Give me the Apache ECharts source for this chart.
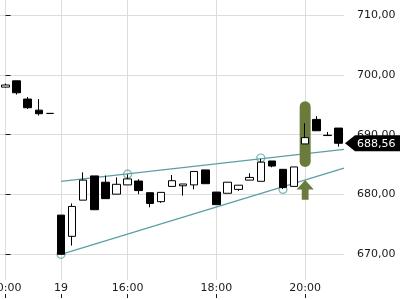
<!DOCTYPE html>
<html><head><meta charset="utf-8">
<script src="https://cdn.jsdelivr.net/npm/echarts@6/dist/echarts.min.js"></script>
<style>html,body{margin:0;padding:0;background:#fff}#c{width:400px;height:300px}</style>
</head><body><div id="c"></div>
<script>
// ---- data ----
const categories = [
  '18 20:00','18 20:15','18 20:30','18 20:45','18 21:00',
  '19 14:30','19 14:45','19 15:00','19 15:15','19 15:30','19 15:45',
  '19 16:00','19 16:15','19 16:30','19 16:45','19 17:00','19 17:15','19 17:30','19 17:45',
  '19 18:00','19 18:15','19 18:30','19 18:45','19 19:00','19 19:15','19 19:30','19 19:45',
  '19 20:00','19 20:15','19 20:30','19 20:45'
];
const opens  = [697.95,699.0,695.95,694.1,693.55, 676.55,673.0,679.05,683.1,682.05,680.05, 681.6,682.25,680.3,678.8,681.35,681.45,681.6,684.1, 680.4,680.2,680.85,682.4,682.2,685.6,684.2,681.35, 688.45,692.55,689.9,691.1];
const closes = [698.30,697.0,694.5,693.5,693.55, 670.0,678.0,682.4,677.45,679.3,681.7, 682.6,680.65,678.5,680.35,682.3,681.75,683.85,681.8, 678.3,682.05,681.55,682.85,685.4,684.75,681.15,684.6, 689.5,690.65,689.85,688.56];
const lows   = [697.90,696.7,694.3,693.2,693.55, 670.0,671.45,679.05,677.45,679.3,680.05, 681.6,680.05,677.85,678.6,681.35,679.8,680.85,681.8, 678.3,680.2,680.6,682.4,682.2,684.55,680.9,681.35, 688.45,690.65,689.85,688.0];
const highs  = [698.55,699.0,696.3,695.95,693.55, 676.55,678.5,683.7,683.1,683.15,682.85, 683.35,682.55,680.3,680.35,683.25,681.75,683.85,684.1, 680.4,682.05,681.55,683.55,685.95,685.6,684.2,684.6, 691.9,693.1,690.45,691.1];

const upperTrend = [[5, 682.2], [30.5, 687.55]];
const lowerTrend = [[5, 670.0], [30.5, 684.4]];
const touchPoints = [[5, 670.0], [11, 683.4], [23, 686.1], [25, 680.85]];
const signalBar = [[27, 684.6, 695.6]];
const signalArrow = [[27, 679.1, 682.4]];
const lastPrice = 688.56;

// ---- helpers ----
const candleData = opens.map((o, i) => [o, closes[i], lows[i], highs[i]]);
function isLabelIdx(i) {
  const [d, t] = categories[i].split(' ');
  if (i > 0 && categories[i - 1].split(' ')[0] !== d) return true;
  const [h, m] = t.split(':');
  return m === '00' && (+h) % 2 === 0;
}
function labelText(i) {
  const [d, t] = categories[i].split(' ');
  if (i > 0 && categories[i - 1].split(' ')[0] !== d) return d;
  return t;
}
const fmt = v => v.toFixed(2).replace('.', ',');
const TEAL = '#5b9fa6', OLIVE = '#6b7b3b', GRID = '#dcdcdc', TXT = '#1a1a1a';
const FONT = 'DejaVu Sans';

const chart = echarts.init(document.getElementById('c'), null, {renderer: 'canvas'});
chart.setOption({
  animation: false,
  textStyle: {fontFamily: FONT},
  grid: [
    {left: 0, right: 56, top: -44.8, height: 358.9, outerBoundsMode: 'none', containLabel: false},
    {left: 0, right: 56, top: 0, height: 280, outerBoundsMode: 'none', containLabel: false}
  ],
  xAxis: [
    {gridIndex: 0, type: 'category', data: categories, boundaryGap: true,
     axisLine: {show: false}, axisTick: {show: false}, axisLabel: {show: false}, splitLine: {show: false}},
    {gridIndex: 1, type: 'category', data: categories, boundaryGap: true, position: 'bottom',
     axisLine: {show: false}, axisTick: {show: false},
     axisLabel: {interval: (i) => isLabelIdx(i), formatter: (v, i) => labelText(i),
                 color: TXT, fontSize: 11, margin: 3, fontFamily: FONT},
     splitLine: {show: true, alignWithLabel: true, interval: (i) => isLabelIdx(i), lineStyle: {color: GRID, width: 1}}},
    {gridIndex: 1, type: 'category', data: categories, boundaryGap: true, position: 'bottom', offset: 18,
     axisLine: {show: false}, axisLabel: {show: false}, splitLine: {show: false},
     axisTick: {show: true, inside: true, length: 4, alignWithLabel: true, interval: (i) => isLabelIdx(i),
                lineStyle: {color: TXT, width: 1}}},
    {gridIndex: 0, type: 'value', min: -0.5, max: 30.5, show: false}
  ],
  yAxis: [
    {gridIndex: 0, type: 'value', position: 'right', min: 660, max: 720, interval: 10,
     axisLine: {show: false},
     axisTick: {show: true, length: 5, lineStyle: {color: TXT}},
     axisLabel: {color: TXT, fontSize: 11, margin: 13, formatter: fmt, fontFamily: FONT},
     splitLine: {show: true, lineStyle: {color: GRID, width: 1}}},
    {gridIndex: 1, type: 'value', show: false}
  ],
  series: [
    {type: 'line', xAxisIndex: 3, yAxisIndex: 0, data: upperTrend, symbol: 'none', z: 1,
     lineStyle: {color: TEAL, width: 1.3}},
    {type: 'line', xAxisIndex: 3, yAxisIndex: 0, data: lowerTrend, symbol: 'none', z: 1,
     lineStyle: {color: TEAL, width: 1.3}},
    {type: 'scatter', xAxisIndex: 3, yAxisIndex: 0, data: touchPoints, symbol: 'circle', symbolSize: 8, z: 1,
     itemStyle: {color: 'rgba(0,0,0,0)', borderColor: TEAL, borderWidth: 1.2}},
    {type: 'custom', xAxisIndex: 0, yAxisIndex: 0, data: signalBar, z: 2, clip: false,
     encode: {x: 0, y: [1, 2]},
     renderItem: (params, api) => {
       const top = api.coord([api.value(0), api.value(2)]);
       const bot = api.coord([api.value(0), api.value(1)]);
       const w = 11;
       return {type: 'rect', shape: {x: top[0] - w / 2, y: top[1], width: w, height: bot[1] - top[1], r: w / 2},
               style: {fill: OLIVE}};
     }},
    {type: 'custom', xAxisIndex: 0, yAxisIndex: 0, data: signalArrow, z: 2, clip: false,
     encode: {x: 0, y: [1, 2]},
     renderItem: (params, api) => {
       const tip = api.coord([api.value(0), api.value(2)]);
       const base = api.coord([api.value(0), api.value(1)]);
       const cx = tip[0], ty = tip[1], by = base[1], hh = 9.3, hw = 8.6, sw = 3.4;
       return {type: 'polygon', shape: {points: [[cx, ty], [cx + hw, ty + hh], [cx + sw, ty + hh], [cx + sw, by],
               [cx - sw, by], [cx - sw, ty + hh], [cx - hw, ty + hh]]}, style: {fill: OLIVE}};
     }},
    {type: 'candlestick', xAxisIndex: 0, yAxisIndex: 0, data: candleData, barWidth: 8, z: 3,
     itemStyle: {color: '#ffffff', color0: '#000000', borderColor: '#000000', borderColor0: '#000000', borderWidth: 1}},
    {type: 'custom', xAxisIndex: 0, yAxisIndex: 0, data: [[categories.length - 1, lastPrice]], z: 5, clip: false,
     encode: {x: 0, y: 1},
     renderItem: (params, api) => {
       const p = api.coord([api.value(0), api.value(1)]);
       const x = params.coordSys.x + params.coordSys.width;
       const y = p[1];
       return {type: 'group', children: [
         {type: 'polygon', shape: {points: [[x + 1, y], [x + 11, y - 8], [x + 56, y - 8], [x + 56, y + 8], [x + 11, y + 8]]},
          style: {fill: '#000'}},
         {type: 'text', style: {x: x + 13, y: y + 0.5, text: fmt(api.value(1)), fill: '#fff',
          font: '11px "DejaVu Sans"', verticalAlign: 'middle', align: 'left'}}
       ]};
     }}
  ]
});
</script></body></html>
